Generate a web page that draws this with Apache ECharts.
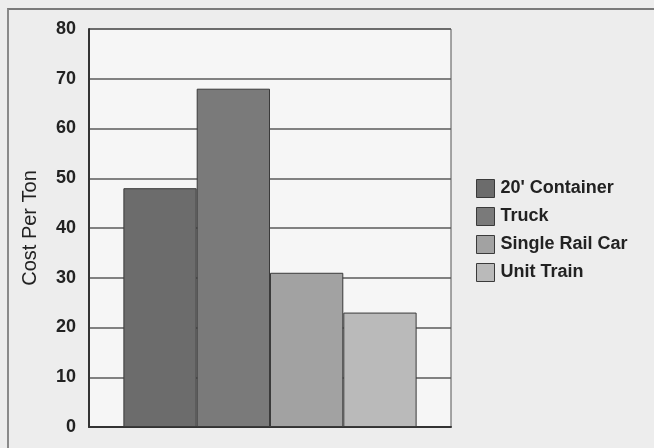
<!DOCTYPE html>
<html>
<head>
<meta charset="utf-8">
<script src="https://cdn.jsdelivr.net/npm/echarts@6/dist/echarts.min.js"></script>
<style>
  html, body { margin: 0; padding: 0; background: #ededed; }
  #frame {
    position: absolute; left: 7px; top: 8px; width: 660px; height: 438px;
    border-left: 2px solid #8a8a8a; border-top: 2px solid #7a7a7a;
    border-bottom: 1px solid #c8c8c8;
  }
  #chart { position: absolute; left: 0; top: 0; width: 654px; height: 448px; }
</style>
</head>
<body>
<div id="frame"></div>
<div id="chart"></div>
<script>
// one category, four modes of transport
const modes = ['20\' Container', 'Truck', 'Single Rail Car', 'Unit Train'];
const costPerTon = [48, 68, 31, 23];
const modeColors = ['#6c6c6c', '#7a7a7a', '#a2a2a2', '#bababa'];
const yTicks = [0, 10, 20, 30, 40, 50, 60, 70, 80];

const chart = echarts.init(document.getElementById('chart'));

const series = modes.map((name, i) => ({
  name: name,
  type: 'bar',
  data: [costPerTon[i]],
  barGap: '0%',
  barCategoryGap: '19%',
  itemStyle: {
    color: modeColors[i],
    borderColor: '#3a3a3a',
    borderWidth: 1
  }
}));

chart.setOption({
  backgroundColor: 'transparent',
  animation: false,
  textStyle: { fontFamily: 'Liberation Sans, Arial, sans-serif', color: '#222' },
  grid: {
    left: 89, top: 29, right: 203, bottom: 21,
    show: true,
    backgroundColor: '#f6f6f6',
    borderColor: '#555',
    borderWidth: 1
  },
  legend: {
    orient: 'vertical',
    left: 471,
    top: 174,
    itemWidth: 18,
    itemHeight: 18,
    itemGap: 9,
    icon: 'rect',
    data: modes,
    itemStyle: { borderColor: '#3a3a3a', borderWidth: 1 },
    textStyle: { fontSize: 18, fontWeight: 'bold', color: '#222', padding: [0, 0, 0, 1] }
  },
  xAxis: {
    type: 'category',
    data: [''],
    axisTick: { show: false },
    axisLabel: { show: false },
    axisLine: { lineStyle: { color: '#333', width: 2 } }
  },
  yAxis: {
    type: 'value',
    min: yTicks[0],
    max: yTicks[yTicks.length - 1],
    interval: 10,
    name: 'Cost Per Ton',
    nameLocation: 'middle',
    nameGap: 49,
    nameTextStyle: { fontSize: 20, color: '#222' },
    axisLine: { show: true, lineStyle: { color: '#333', width: 2 } },
    axisTick: { show: false },
    axisLabel: { fontSize: 18, fontWeight: 'bold', color: '#222', margin: 13 },
    splitLine: { lineStyle: { color: '#5a5a5a', width: 1.5 } }
  },
  series: series
});
</script>
</body>
</html>
